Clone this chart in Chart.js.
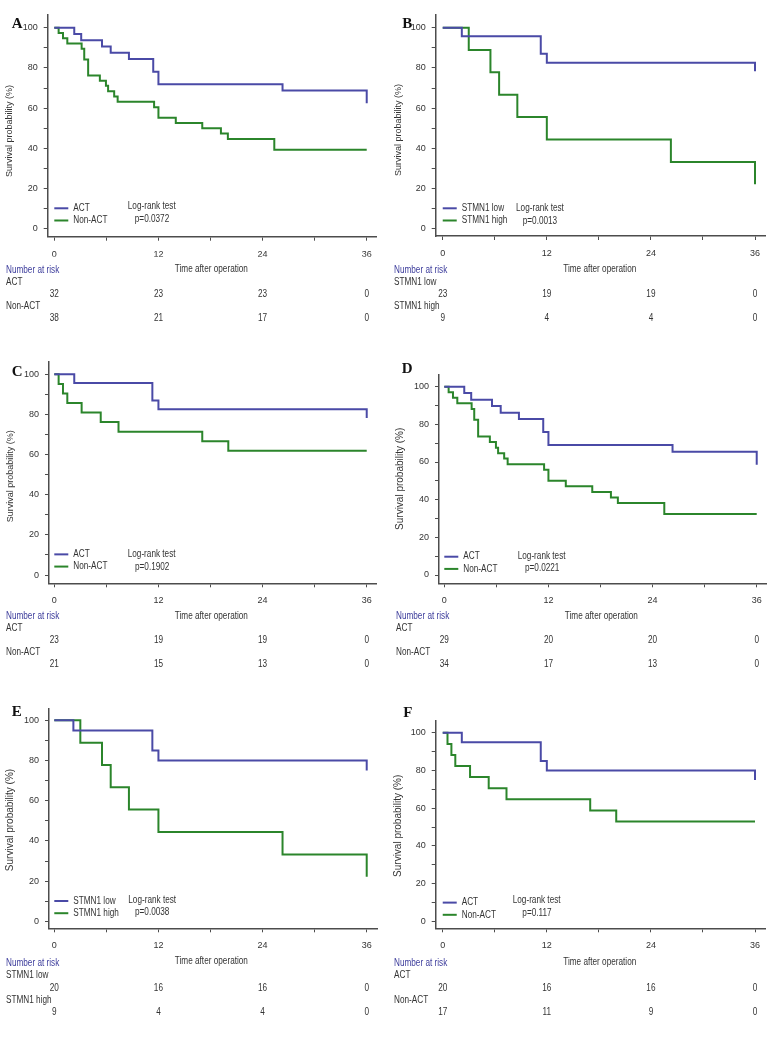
<!DOCTYPE html>
<html><head><meta charset="utf-8">
<script src="https://cdn.jsdelivr.net/npm/chart.js@4.4.1/dist/chart.umd.min.js"></script>
<style>
html,body{margin:0;padding:0;background:#fff;}
body{width:779px;height:1039px;position:relative;overflow:hidden;}
canvas{position:absolute;}
</style></head><body>
<script>
// ---------------- DATA ----------------
const riskTimes = [0, 12, 24, 36];
const xTickValues = [0, 6, 12, 18, 24, 30, 36];
const yTickValues = [0, 10, 20, 30, 40, 50, 60, 70, 80, 90, 100];

// Panel A
const A_groups = ['ACT', 'Non-ACT'];
const A_g1_time = [0, 2.3, 3.1, 5.5, 6.5, 8.6, 11.4, 12.0, 26.3, 36];
const A_g1_surv = [100, 96.9, 93.8, 90.6, 87.5, 84.4, 78.1, 71.9, 68.8, 62.5];
const A_g2_time = [0, 0.5, 1.0, 1.5, 3.15, 3.45, 3.9, 5.25, 5.95, 6.2, 6.9, 7.3, 11.5, 12.0, 14.0, 17.05, 19.2, 20.0, 25.35, 36];
const A_g2_surv = [100, 97.4, 94.7, 92.1, 89.5, 84.2, 76.3, 73.7, 71.1, 68.4, 65.8, 63.2, 60.5, 55.3, 52.6, 50.0, 47.4, 44.7, 39.4, 39.4];
const A_risk1 = [32, 23, 23, 0];
const A_risk2 = [38, 21, 17, 0];
const A_p = 'p=0.0372';

// Panel B
const B_groups = ['STMN1 low', 'STMN1 high'];
const B_g1_time = [0, 2.2, 11.3, 12.0, 36];
const B_g1_surv = [100, 95.7, 87.0, 82.6, 78.3];
const B_g2_time = [0, 3.0, 5.5, 6.5, 8.6, 12.0, 26.3, 36];
const B_g2_surv = [100, 88.9, 77.8, 66.7, 55.6, 44.4, 33.3, 22.2];
const B_risk1 = [23, 19, 19, 0];
const B_risk2 = [9, 4, 4, 0];
const B_p = 'p=0.0013';

// Panel C
const C_groups = ['ACT', 'Non-ACT'];
const C_g1_time = [0, 2.3, 11.3, 12.0, 36];
const C_g1_surv = [100, 95.7, 87.0, 82.6, 78.3];
const C_g2_time = [0, 0.5, 1.0, 1.5, 3.15, 5.35, 7.4, 17.05, 20.05, 36];
const C_g2_surv = [100, 95.2, 90.5, 85.7, 81.0, 76.2, 71.4, 66.7, 61.9, 61.9];
const C_risk1 = [23, 19, 19, 0];
const C_risk2 = [21, 15, 13, 0];
const C_p = 'p=0.1902';

// Panel D
const D_groups = ['ACT', 'Non-ACT'];
const D_g1_time = [0, 2.3, 3.1, 5.5, 6.5, 8.6, 11.4, 12.0, 26.3, 36];
const D_g1_surv = [100, 96.6, 93.1, 89.7, 86.2, 82.8, 75.9, 69.0, 65.5, 58.6];
const D_g2_time = [0, 0.5, 1.0, 1.5, 3.15, 3.45, 3.9, 5.25, 5.95, 6.2, 6.9, 7.3, 11.5, 12.0, 14.0, 17.05, 19.2, 20.0, 25.35, 36];
const D_g2_surv = [100, 97.1, 94.1, 91.2, 88.2, 82.4, 73.5, 70.6, 67.6, 64.7, 61.8, 58.8, 55.9, 50.0, 47.1, 44.1, 41.2, 38.2, 32.4, 32.4];
const D_risk1 = [29, 20, 20, 0];
const D_risk2 = [34, 17, 13, 0];
const D_p = 'p=0.0221';

// Panel E
const E_groups = ['STMN1 low', 'STMN1 high'];
const E_g1_time = [0, 2.2, 11.3, 12.0, 36];
const E_g1_surv = [100, 95, 85, 80, 75];
const E_g2_time = [0, 3.0, 5.5, 6.5, 8.6, 12.0, 26.3, 36];
const E_g2_surv = [100, 88.9, 77.8, 66.7, 55.6, 44.4, 33.3, 22.2];
const E_risk1 = [20, 16, 16, 0];
const E_risk2 = [9, 4, 4, 0];
const E_p = 'p=0.0038';

// Panel F
const F_groups = ['ACT', 'Non-ACT'];
const F_g1_time = [0, 2.2, 11.3, 12.0, 36];
const F_g1_surv = [100, 95, 85, 80, 75];
const F_g2_time = [0, 0.55, 1.0, 1.45, 3.15, 5.3, 7.35, 17.0, 20.0, 36];
const F_g2_surv = [100, 94.1, 88.2, 82.4, 76.5, 70.6, 64.7, 58.8, 52.9, 52.9];
const F_risk1 = [20, 16, 16, 0];
const F_risk2 = [17, 11, 9, 0];
const F_p = 'p=0.117';

// ---------------- STYLE ----------------
const BLUE = '#4a4aa6';
const GREEN = '#2b852b';
const AXIS = '#4d4d4d';
const TEXT = '#333333';
const RISKBLUE = '#3d3d9c';
const SANS = '"Liberation Sans",Arial,sans-serif';
const SERIF = '"Liberation Serif","Times New Roman",serif';
const CONDENSE = 0.82;
const XH = 20;

const panels = [
  {letter:'A', groups:A_groups, t1:A_g1_time, s1:A_g1_surv, t2:A_g2_time, s2:A_g2_surv, r1:A_risk1, r2:A_risk2, p:A_p,
   box:[0,0,390,330], geo:{left:47.7, top:15, right:376.7, bottom:236.7}, x:[-0.76,37.15], y:[-3.83,106.3],
   letterPos:[11.7,28.3], ytitle:[9.5,131,9], legOff:-20.7, logOff:-22.3, logX:73.5, pX:80.5, riskTop:33.5, riskStep:12, timeOff:32.5, labelX:6},
  {letter:'B', groups:B_groups, t1:B_g1_time, s1:B_g1_surv, t2:B_g2_time, s2:B_g2_surv, r1:B_risk1, r2:B_risk2, p:B_p,
   box:[390,0,389,330], geo:{left:45.7, top:15, right:375.7, bottom:236}, x:[-0.81,37.23], y:[-3.48,106.3],
   letterPos:[12.3,28.3], ytitle:[8.3,130,9], legOff:-20.7, logOff:-20.5, logX:73.3, pX:80, riskTop:34, riskStep:12, timeOff:33, labelX:4},
  {letter:'C', groups:C_groups, t1:C_g1_time, s1:C_g1_surv, t2:C_g2_time, s2:C_g2_surv, r1:C_risk1, r2:C_risk2, p:C_p,
   box:[0,340,390,340], geo:{left:49, top:21.7, right:376.7, bottom:243.3}, x:[-0.61,37.15], y:[-4.1,106.3],
   letterPos:[11.7,36], ytitle:[10.8,136.3,9], legOff:-20.7, logOff:-20.5, logX:73.4, pX:80.7, riskTop:33.4, riskStep:12, timeOff:32.7, labelX:6},
  {letter:'D', groups:D_groups, t1:D_g1_time, s1:D_g1_surv, t2:D_g2_time, s2:D_g2_surv, r1:D_risk1, r2:D_risk2, p:D_p,
   box:[390,340,389,340], geo:{left:49, top:35, right:376.7, bottom:243.3}, x:[-0.61,37.15], y:[-4.4,106.2],
   letterPos:[11.7,33.3], ytitle:[10.2,138.8,10], legOff:-18.3, logOff:-19, logX:73.4, pX:80.7, riskTop:33.4, riskStep:12, timeOff:32.7, labelX:6},
  {letter:'E', groups:E_groups, t1:E_g1_time, s1:E_g1_surv, t2:E_g2_time, s2:E_g2_surv, r1:E_risk1, r2:E_risk2, p:E_p,
   box:[0,680,390,359], geo:{left:49, top:28.3, right:377.3, bottom:248.3}, x:[-0.61,37.22], y:[-3.48,106],
   letterPos:[11.7,35.7], ytitle:[10,140,10], legOff:-20.3, logOff:-21.3, logX:74, pX:80.7, riskTop:35, riskStep:12.3, timeOff:33.4, labelX:6},
  {letter:'F', groups:F_groups, t1:F_g1_time, s1:F_g1_surv, t2:F_g2_time, s2:F_g2_surv, r1:F_risk1, r2:F_risk2, p:F_p,
   box:[390,680,389,359], geo:{left:45.7, top:40.7, right:375.7, bottom:248.3}, x:[-0.81,37.23], y:[-3.71,106.4],
   letterPos:[13.3,36.7], ytitle:[7.8,145.8,10], legOff:-18.7, logOff:-20.7, logX:70, pX:79.6, riskTop:35, riskStep:12.3, timeOff:34, labelX:4}
];

function condText(ctx, txt, x, y) {
  ctx.save();
  ctx.translate(x, y);
  ctx.scale(CONDENSE, 1);
  ctx.fillText(txt, 0, 0);
  ctx.restore();
}

const decor = {
  id: 'decor',
  afterDraw(chart, args, o) {
    const ctx = chart.ctx;
    const xs = chart.scales.x, ys = chart.scales.y;
    const x0 = xs.getPixelForValue(0);
    const y0 = ys.getPixelForValue(0);
    const axb = chart.chartArea.bottom;
    ctx.save();
    // panel letter
    ctx.fillStyle = '#111';
    ctx.font = 'bold 15px ' + SERIF;
    ctx.textAlign = 'left'; ctx.textBaseline = 'alphabetic';
    ctx.fillText(o.letter, o.letterPos[0], o.letterPos[1]);
    // y title
    ctx.save();
    ctx.translate(o.ytitle[0], o.ytitle[1]);
    ctx.rotate(-Math.PI / 2);
    ctx.font = o.ytitle[2] + 'px ' + SANS;
    ctx.fillStyle = TEXT;
    ctx.textAlign = 'center'; ctx.textBaseline = 'middle';
    ctx.fillText('Survival probability (%)', 0, 0);
    ctx.restore();
    // legend
    ctx.font = '10px ' + SANS;
    ctx.textBaseline = 'middle'; ctx.textAlign = 'left';
    const cols = [BLUE, GREEN];
    for (let i = 0; i < 2; i++) {
      const yy = y0 + o.legOff + i * 12.2;
      ctx.strokeStyle = cols[i]; ctx.lineWidth = 2;
      ctx.beginPath(); ctx.moveTo(x0, yy); ctx.lineTo(x0 + 14, yy); ctx.stroke();
      ctx.fillStyle = TEXT;
      condText(ctx, o.groups[i], x0 + 19, yy);
    }
    condText(ctx, 'Log-rank test', x0 + o.logX, y0 + o.logOff);
    condText(ctx, o.p, x0 + o.pX, y0 + o.logOff + 12.3);
    // x title
    ctx.textAlign = 'center';
    condText(ctx, 'Time after operation', xs.getPixelForValue(18.1), axb + o.timeOff);
    // number at risk
    ctx.textAlign = 'left';
    ctx.fillStyle = RISKBLUE;
    condText(ctx, 'Number at risk', o.labelX, axb + o.riskTop);
    ctx.fillStyle = TEXT;
    condText(ctx, o.groups[0], o.labelX, axb + o.riskTop + o.riskStep);
    condText(ctx, o.groups[1], o.labelX, axb + o.riskTop + 3 * o.riskStep);
    ctx.textAlign = 'center';
    riskTimes.forEach((t, i) => {
      const px = xs.getPixelForValue(t);
      condText(ctx, String(o.r1[i]), px, axb + o.riskTop + 2 * o.riskStep);
      condText(ctx, String(o.r2[i]), px, axb + o.riskTop + 4 * o.riskStep);
    });
    ctx.restore();
  }
};

panels.forEach(P => {
  const cv = document.createElement('canvas');
  const [bx, by, bw, bh] = P.box;
  cv.width = bw; cv.height = bh;
  cv.style.left = bx + 'px'; cv.style.top = by + 'px';
  cv.style.width = bw + 'px'; cv.style.height = bh + 'px';
  document.body.appendChild(cv);
  const g = P.geo;
  new Chart(cv, {
    type: 'line',
    data: {
      datasets: [
        {label: P.groups[0], data: P.t1.map((t, i) => ({x: t, y: P.s1[i]})), borderColor: BLUE},
        {label: P.groups[1], data: P.t2.map((t, i) => ({x: t, y: P.s2[i]})), borderColor: GREEN}
      ]
    },
    options: {
      responsive: false, animation: false, devicePixelRatio: 1,
      layout: {padding: {left: 0, top: g.top, right: bw - g.right, bottom: bh - g.bottom - XH}},
      datasets: {line: {stepped: 'before', borderWidth: 2, pointRadius: 0, fill: false, tension: 0}},
      plugins: {
        legend: {display: false}, tooltip: {enabled: false}, title: {display: false},
        decor: {letter: P.letter, groups: P.groups, r1: P.r1, r2: P.r2, p: P.p, letterPos: P.letterPos,
          ytitle: P.ytitle, legOff: P.legOff, logOff: P.logOff, logX: P.logX, pX: P.pX,
          riskTop: P.riskTop, riskStep: P.riskStep, timeOff: P.timeOff, labelX: P.labelX}
      },
      scales: {
        x: {
          type: 'linear', min: P.x[0], max: P.x[1],
          afterFit(s) { s.height = XH; },
          afterBuildTicks(s) { s.ticks = xTickValues.map(v => ({value: v})); },
          ticks: {callback: v => (v % 12 === 0 ? String(v) : ''), autoSkip: false, maxRotation: 0,
            padding: 8, color: TEXT, font: {family: SANS, size: 9}},
          grid: {drawOnChartArea: false, drawTicks: true, tickLength: 4, color: AXIS, lineWidth: 1},
          border: {display: true, color: AXIS, width: 1.5}
        },
        y: {
          type: 'linear', min: P.y[0], max: P.y[1],
          afterFit(s) { s.width = g.left; },
          afterBuildTicks(s) { s.ticks = yTickValues.map(v => ({value: v})); },
          ticks: {callback: v => (v % 20 === 0 ? String(v) : ''), autoSkip: false,
            padding: 6, color: TEXT, font: {family: SANS, size: 9}},
          grid: {drawOnChartArea: false, drawTicks: true, tickLength: 4, color: AXIS, lineWidth: 1},
          border: {display: true, color: AXIS, width: 1.5}
        }
      }
    },
    plugins: [decor]
  });
});
</script>
</body></html>
